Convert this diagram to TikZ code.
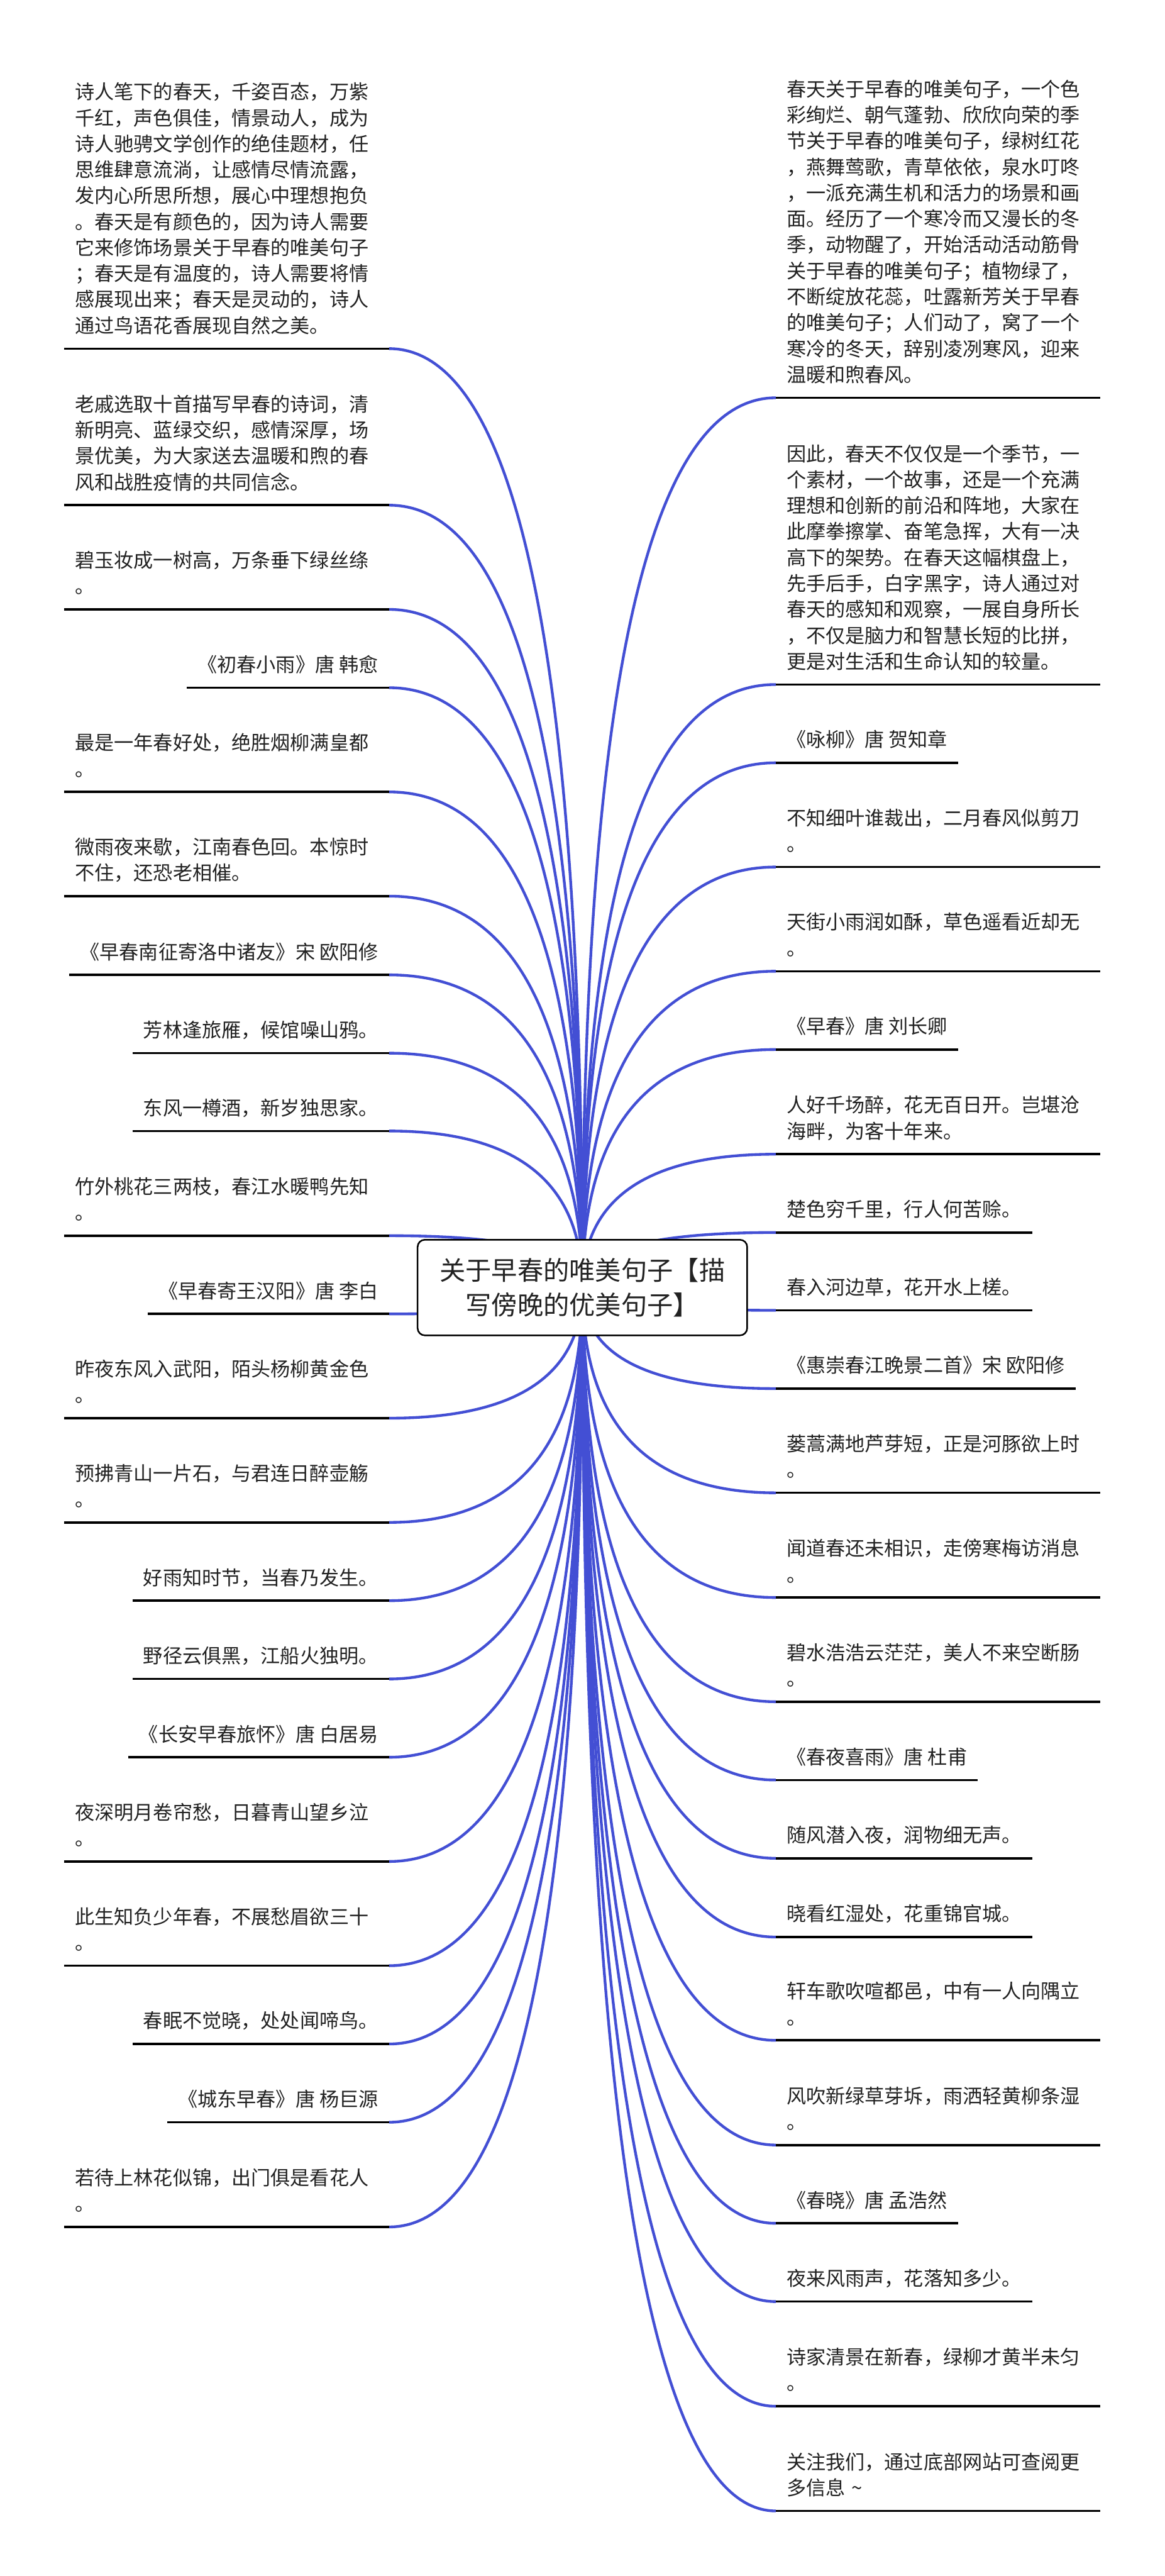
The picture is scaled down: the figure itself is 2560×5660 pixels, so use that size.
\documentclass[tikz,border=0pt]{standalone}
\usepackage{fontspec}
\setmainfont{Noto Sans CJK SC}
\usetikzlibrary{calc}
\definecolor{txt}{RGB}{34,34,34}
\definecolor{connblue}{RGB}{67,79,212}
\newcommand\leaffont{\fontsize{12.235pt}{16.218pt}\selectfont}
\newcommand\hubfont{\fontsize{16.22pt}{21.34pt}\selectfont}
\pgfdeclarelayer{background}
\pgfsetlayers{background,main}
\begin{document}
\begin{tikzpicture}[x=0.01cm,y=-0.01cm,
  leaf/.style={inner xsep=0.23cm, inner ysep=0.34cm, text=txt, font=\leaffont, text depth=0pt},
  lft/.style={leaf, anchor=south east},
  rgt/.style={leaf, anchor=south west},
  wrap/.style={text width=6.66cm, align=left},
  uline/.style={draw=black, line width=0.05cm},
  conn/.style={draw=connblue, line width=0.06cm},
  hub/.style={draw=black, fill=white, line width=0.035cm, rounded corners=0.16cm, minimum width=7.24cm, minimum height=2.10cm, inner sep=0pt, align=center, font=\hubfont, text=txt}
]
\useasboundingbox (0,0) rectangle (2560,5660);

% central node
\node[hub] (C) at (1280,2829) {关于早春的唯美句子【描\\写傍晚的优美句子】};

% left leaves
\node[lft,wrap,text depth=5.13cm] (L1) at (855,766) {诗人笔下的春天，千姿百态，万紫\\千红，声色俱佳，情景动人，成为\\诗人驰骋文学创作的绝佳题材，任\\思维肆意流淌，让感情尽情流露，\\发内心所思所想，展心中理想抱负\\。春天是有颜色的，因为诗人需要\\它来修饰场景关于早春的唯美句子\\；春天是有温度的，诗人需要将情\\感展现出来；春天是灵动的，诗人\\通过鸟语花香展现自然之美。};
\node[lft,wrap,text depth=1.71cm] (L2) at (855,1110) {老戚选取十首描写早春的诗词，清\\新明亮、蓝绿交织，感情深厚，场\\景优美，为大家送去温暖和煦的春\\风和战胜疫情的共同信念。};
\node[lft,wrap,text depth=0.57cm] (L3) at (855,1339) {碧玉妆成一树高，万条垂下绿丝绦\\。};
\node[lft] (L4) at (855,1511) {《初春小雨》唐 韩愈};
\node[lft,wrap,text depth=0.57cm] (L5) at (855,1740) {最是一年春好处，绝胜烟柳满皇都\\。};
\node[lft,wrap,text depth=0.57cm] (L6) at (855,1969) {微雨夜来歇，江南春色回。本惊时\\不住，还恐老相催。};
\node[lft] (L7) at (855,2142) {《早春南征寄洛中诸友》宋 欧阳修};
\node[lft] (L8) at (855,2314) {芳林逢旅雁，候馆噪山鸦。};
\node[lft] (L9) at (855,2485) {东风一樽酒，新岁独思家。};
\node[lft,wrap,text depth=0.57cm] (L10) at (855,2715) {竹外桃花三两枝，春江水暖鸭先知\\。};
\node[lft] (L11) at (855,2887) {《早春寄王汉阳》唐 李白};
\node[lft,wrap,text depth=0.57cm] (L12) at (855,3116) {昨夜东风入武阳，陌头杨柳黄金色\\。};
\node[lft,wrap,text depth=0.57cm] (L13) at (855,3345) {预拂青山一片石，与君连日醉壶觞\\。};
\node[lft] (L14) at (855,3517) {好雨知时节，当春乃发生。};
\node[lft] (L15) at (855,3689) {野径云俱黑，江船火独明。};
\node[lft] (L16) at (855,3861) {《长安早春旅怀》唐 白居易};
\node[lft,wrap,text depth=0.57cm] (L17) at (855,4090) {夜深明月卷帘愁，日暮青山望乡泣\\。};
\node[lft,wrap,text depth=0.57cm] (L18) at (855,4319) {此生知负少年春，不展愁眉欲三十\\。};
\node[lft] (L19) at (855,4491) {春眠不觉晓，处处闻啼鸟。};
\node[lft] (L20) at (855,4663) {《城东早春》唐 杨巨源};
\node[lft,wrap,text depth=0.57cm] (L21) at (855,4893) {若待上林花似锦，出门俱是看花人\\。};

% right leaves
\node[rgt,wrap,text depth=6.27cm] (R1) at (1705,874) {春天关于早春的唯美句子，一个色\\彩绚烂、朝气蓬勃、欣欣向荣的季\\节关于早春的唯美句子，绿树红花\\，燕舞莺歌，青草依依，泉水叮咚\\，一派充满生机和活力的场景和画\\面。经历了一个寒冷而又漫长的冬\\季，动物醒了，开始活动活动筋骨\\关于早春的唯美句子；植物绿了，\\不断绽放花蕊，吐露新芳关于早春\\的唯美句子；人们动了，窝了一个\\寒冷的冬天，辞别凌冽寒风，迎来\\温暖和煦春风。};
\node[rgt,wrap,text depth=4.56cm] (R2) at (1705,1504) {因此，春天不仅仅是一个季节，一\\个素材，一个故事，还是一个充满\\理想和创新的前沿和阵地，大家在\\此摩拳擦掌、奋笔急挥，大有一决\\高下的架势。在春天这幅棋盘上，\\先手后手，白字黑字，诗人通过对\\春天的感知和观察，一展自身所长\\，不仅是脑力和智慧长短的比拼，\\更是对生活和生命认知的较量。};
\node[rgt] (R3) at (1705,1676) {《咏柳》唐 贺知章};
\node[rgt,wrap,text depth=0.57cm] (R4) at (1705,1905) {不知细叶谁裁出，二月春风似剪刀\\。};
\node[rgt,wrap,text depth=0.57cm] (R5) at (1705,2134) {天街小雨润如酥，草色遥看近却无\\。};
\node[rgt] (R6) at (1705,2306) {《早春》唐 刘长卿};
\node[rgt,wrap,text depth=0.57cm] (R7) at (1705,2536) {人好千场醉，花无百日开。岂堪沧\\海畔，为客十年来。};
\node[rgt] (R8) at (1705,2708) {楚色穷千里，行人何苦赊。};
\node[rgt] (R9) at (1705,2879) {春入河边草，花开水上槎。};
\node[rgt] (R10) at (1705,3051) {《惠崇春江晚景二首》宋 欧阳修};
\node[rgt,wrap,text depth=0.57cm] (R11) at (1705,3280) {蒌蒿满地芦芽短，正是河豚欲上时\\。};
\node[rgt,wrap,text depth=0.57cm] (R12) at (1705,3510) {闻道春还未相识，走傍寒梅访消息\\。};
\node[rgt,wrap,text depth=0.57cm] (R13) at (1705,3739) {碧水浩浩云茫茫，美人不来空断肠\\。};
\node[rgt] (R14) at (1705,3911) {《春夜喜雨》唐 杜甫};
\node[rgt] (R15) at (1705,4083) {随风潜入夜，润物细无声。};
\node[rgt] (R16) at (1705,4256) {晓看红湿处，花重锦官城。};
\node[rgt,wrap,text depth=0.57cm] (R17) at (1705,4483) {轩车歌吹喧都邑，中有一人向隅立\\。};
\node[rgt,wrap,text depth=0.57cm] (R18) at (1705,4713) {风吹新绿草芽坼，雨洒轻黄柳条湿\\。};
\node[rgt] (R19) at (1705,4885) {《春晓》唐 孟浩然};
\node[rgt] (R20) at (1705,5057) {夜来风雨声，花落知多少。};
\node[rgt,wrap,text depth=0.57cm] (R21) at (1705,5287) {诗家清景在新春，绿柳才黄半未匀\\。};
\node[rgt,wrap,text depth=0.57cm] (R22) at (1705,5517) {关注我们，通过底部网站可查阅更\\多信息 \textasciitilde};

% underlines
\foreach \i in {1,...,21}{\draw[uline] (L\i.south west) -- (L\i.south east);}
\foreach \i in {1,...,22}{\draw[uline] (R\i.south west) -- (R\i.south east);}

% connectors
\begin{pgfonlayer}{background}
\fill[white] (0,0) rectangle (2560,5660);
\foreach \i in {1,...,21}{
  \draw[conn] (C.center) .. controls ($(C.center)!0.6667!(C.center|-L\i.south east)$) and ($(L\i.south east)!0.6667!(C.center|-L\i.south east)$) .. (L\i.south east);
}
\foreach \i in {1,...,22}{
  \draw[conn] (C.center) .. controls ($(C.center)!0.6667!(C.center|-R\i.south west)$) and ($(R\i.south west)!0.6667!(C.center|-R\i.south west)$) .. (R\i.south west);
}
\end{pgfonlayer}
\end{tikzpicture}
\end{document}
